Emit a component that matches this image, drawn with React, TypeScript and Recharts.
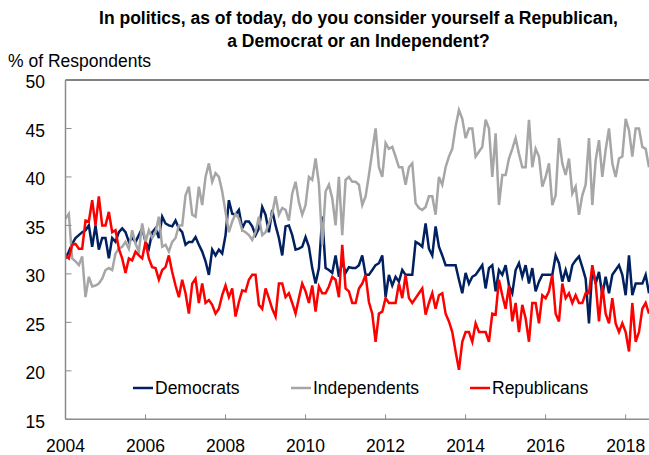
import React from 'react';
import { LineChart, Line, XAxis, YAxis, ReferenceLine } from 'recharts';

const startYear = 2004;

const democrats = [
  31.6, 32.3, 33.1, 33.7, 34.0, 34.3, 34.5, 35.0, 32.8, 35.0, 32.5, 33.7,
  33.7, 31.6, 33.7, 33.3, 34.3, 34.7, 34.3, 33.3, 33.7, 33.3, 34.0, 34.7,
  33.3, 32.6, 34.3, 34.7, 33.7, 35.9, 35.2, 35.0, 34.9, 35.5, 34.7, 34.3,
  33.0, 33.3, 33.3, 33.8, 33.0, 32.3, 31.3, 29.9, 32.5, 31.9, 32.5, 32.1,
  34.0, 37.6, 36.2, 36.1, 36.6, 34.7, 35.4, 35.4, 34.9, 34.0, 34.7, 36.9,
  36.1, 34.3, 36.6, 35.0, 33.7, 31.9, 34.9, 35.0, 34.0, 32.5, 32.6, 32.8,
  33.8, 32.8, 30.6, 29.0, 30.6, 35.9, 30.6, 30.4, 30.1, 31.9, 29.7, 31.3,
  30.1, 30.7, 30.6, 30.6, 30.9, 31.9, 29.9, 29.9, 30.4, 30.9, 31.1, 31.9,
  27.6, 29.9, 28.8, 29.7, 29.2, 30.4, 29.9, 29.9, 29.9, 33.3, 33.1, 32.8,
  35.2, 32.6, 31.9, 34.9, 32.8, 31.9, 30.9, 30.9, 30.9, 30.9, 29.4, 28.0,
  30.1, 29.0, 29.7, 29.9, 30.4, 30.9, 28.5, 30.6, 30.9, 28.2, 30.4, 29.9,
  30.9, 28.8, 28.0, 30.4, 31.1, 29.7, 30.9, 29.0, 30.6, 28.2, 29.2, 29.9,
  29.9, 29.9, 29.9, 31.9, 31.1, 29.2, 30.4, 29.2, 30.9, 31.4, 31.8, 30.7,
  29.5, 24.9, 30.6, 29.0, 30.2, 27.8, 29.7, 28.0, 29.9, 30.4, 30.9, 29.9,
  27.8, 31.9, 27.8, 29.0, 29.0, 29.0, 29.9, 28.0,
];

const independents = [
  35.7, 36.2, 31.6, 31.3, 30.9, 31.8, 27.6, 29.7, 28.7, 28.8, 29.0, 29.5,
  30.4, 30.6, 30.4, 32.1, 32.6, 32.8, 33.3, 32.6, 34.5, 33.1, 32.3, 35.2,
  33.3, 34.5, 33.7, 34.3, 35.9, 32.8, 33.0, 32.3, 33.3, 33.7, 35.0, 35.0,
  38.1, 39.0, 36.1, 35.9, 39.0, 37.1, 40.0, 41.4, 39.5, 40.4, 40.0, 38.5,
  36.4, 34.3, 35.4, 36.2, 35.7, 34.5, 34.3, 34.0, 33.5, 34.3, 35.9, 34.0,
  34.3, 35.2, 36.2, 38.0, 36.1, 36.8, 36.6, 35.5, 38.3, 39.5, 37.4, 36.1,
  37.1, 40.0, 39.7, 41.9, 39.3, 33.0, 38.5, 39.2, 37.8, 35.0, 40.0, 34.0,
  39.7, 40.0, 39.5, 39.5, 39.2, 37.1, 38.0, 40.2, 42.6, 45.0, 41.0, 40.0,
  43.5, 42.9, 43.1, 42.1, 41.0, 41.0, 39.2, 41.0, 41.4, 37.3, 36.8, 36.6,
  36.9, 38.0, 38.0, 36.1, 40.0, 39.2, 41.0, 42.1, 42.9, 45.2, 46.9, 46.0,
  44.0, 45.0, 45.0, 42.1, 42.6, 43.1, 45.9, 45.0, 40.0, 44.5, 37.1, 40.2,
  40.2, 41.9, 42.9, 44.0, 42.4, 41.0, 41.0, 45.9, 41.0, 42.9, 42.1, 39.0,
  40.0, 41.4, 37.1, 38.1, 44.0, 41.4, 40.2, 41.9, 38.3, 39.0, 36.1, 38.1,
  39.2, 44.0, 37.1, 41.7, 43.8, 40.0, 42.8, 45.0, 41.4, 40.0, 41.9, 42.1,
  46.0, 44.8, 42.1, 45.0, 45.0, 43.1, 42.9, 41.0,
];

const republicans = [
  31.9, 31.6, 33.0, 33.1, 32.6, 32.6, 35.5, 35.4, 37.6, 35.0, 38.0, 35.0,
  35.0, 36.4, 34.3, 34.5, 32.6, 31.6, 30.1, 31.6, 31.4, 32.3, 31.9, 31.6,
  33.3, 31.6, 30.7, 30.6, 29.4, 30.4, 30.7, 31.9, 30.2, 28.8, 27.6, 29.4,
  28.0, 25.9, 29.0, 29.5, 27.0, 29.0, 27.0, 27.3, 26.8, 25.9, 26.4, 27.8,
  28.8, 27.6, 28.5, 25.6, 27.1, 28.3, 28.2, 29.4, 29.9, 29.9, 26.8, 26.4,
  28.5, 27.5, 26.4, 25.6, 29.0, 29.0, 27.6, 28.0, 27.0, 25.9, 27.5, 29.0,
  28.2, 27.0, 28.8, 26.1, 28.7, 28.0, 28.0, 28.7, 29.7, 29.4, 27.6, 33.0,
  28.5, 28.2, 27.0, 27.0, 28.5, 29.0, 29.9, 27.1, 25.9, 23.0, 25.9, 26.1,
  27.5, 27.0, 27.0, 27.0, 29.0, 27.5, 29.9, 27.5, 27.0, 27.5, 28.0, 28.5,
  25.8, 27.0, 28.0, 26.4, 27.8, 28.0, 25.9, 25.1, 24.0, 22.0, 20.1, 23.0,
  24.0, 24.0, 23.0, 24.9, 24.0, 24.0, 24.0, 23.0, 25.9, 25.8, 29.4, 27.8,
  26.4, 28.8, 25.1, 27.0, 24.0, 26.8, 25.4, 23.0, 27.0, 27.0, 24.9, 27.8,
  27.5, 28.2, 29.9, 25.9, 25.1, 29.0, 27.5, 28.0, 27.0, 27.8, 27.0, 27.0,
  28.0, 28.0, 30.9, 29.0, 25.1, 28.8, 25.9, 24.9, 27.5, 24.9, 24.0, 24.9,
  24.0, 22.0, 27.0, 23.0, 24.0, 26.4, 27.0, 25.9,
];

const yearTicks = [2004, 2006, 2008, 2010, 2012, 2014, 2016, 2018];
const valueTicks = [15, 20, 25, 30, 35, 40, 45, 50];
const seriesKeys = ['dem', 'ind', 'rep'];
const seriesNames = ['Democrats', 'Independents', 'Republicans'];
const seriesColors = ['#002060', '#A6A6A6', '#FF0000'];
const titleLines = [
  'In politics, as of today, do you consider yourself a Republican,',
  'a Democrat or an Independent?',
];
const yAxisTitle = '% of Respondents';

const data = democrats.map((d, i) => ({
  t: startYear + i / 12,
  dem: d,
  ind: independents[i],
  rep: republicans[i],
}));
const lastT = startYear + (democrats.length - 1) / 12;

const FONT = "'Liberation Sans', Arial, Helvetica, sans-serif";
const legendX = [133, 291, 470];

export default function App() {
  return (
    <div
      style={{
        position: 'absolute',
        left: 0,
        top: 0,
        width: 649,
        height: 455,
        background: '#fff',
        fontFamily: FONT,
        overflow: 'hidden',
      }}
    >
      <LineChart
        width={649}
        height={455}
        data={data}
        margin={{ top: 80, right: 0, bottom: 5.7, left: 5.5 }}
      >
        <XAxis
          dataKey="t"
          type="number"
          domain={[startYear, lastT]}
          ticks={yearTicks}
          interval={0}
          allowDataOverflow
          height={30}
          tickSize={-5}
          tickMargin={25}
          axisLine={{ stroke: '#8c8c8c', strokeWidth: 1.5 }}
          tickLine={{ stroke: '#8c8c8c', strokeWidth: 1 }}
          tick={{ fontSize: 17.5, fill: '#000', fontFamily: FONT }}
          tickFormatter={(v: number) => String(Math.round(v))}
        />
        <YAxis
          type="number"
          domain={[15, 50]}
          ticks={valueTicks}
          interval={0}
          width={60}
          tickSize={-6}
          tickMargin={26.5}
          axisLine={{ stroke: '#8c8c8c', strokeWidth: 1.5 }}
          tickLine={{ stroke: '#8c8c8c', strokeWidth: 1 }}
          tick={{ fontSize: 17.5, fill: '#000', fontFamily: FONT, dy: 2 }}
        />
        <ReferenceLine y={50} stroke="#595959" strokeWidth={1.5} />
        {seriesKeys.map((k, i) => (
          <Line
            key={k}
            type="linear"
            dataKey={k}
            name={seriesNames[i]}
            stroke={seriesColors[i]}
            strokeWidth={2.5}
            dot={false}
            activeDot={false}
            isAnimationActive={false}
          />
        ))}
      </LineChart>
      <svg
        width={649}
        height={455}
        style={{ position: 'absolute', left: 0, top: 0, pointerEvents: 'none' }}
      >
        <text x={358.5} y={24} textAnchor="middle" fontWeight="bold" fontSize={17.5} fontFamily={FONT} fill="#000">
          {titleLines[0]}
        </text>
        <text x={358.5} y={47} textAnchor="middle" fontWeight="bold" fontSize={17.5} fontFamily={FONT} fill="#000">
          {titleLines[1]}
        </text>
        <text x={8} y={67} fontSize={17.5} fontFamily={FONT} fill="#000">
          {yAxisTitle}
        </text>
        {seriesNames.map((n, i) => (
          <g key={n}>
            <line x1={legendX[i]} x2={legendX[i] + 20} y1={388} y2={388} stroke={seriesColors[i]} strokeWidth={2.5} />
            <text x={legendX[i] + 22} y={394} fontSize={17.5} fontFamily={FONT} fill="#000">
              {n}
            </text>
          </g>
        ))}
      </svg>
    </div>
  );
}
